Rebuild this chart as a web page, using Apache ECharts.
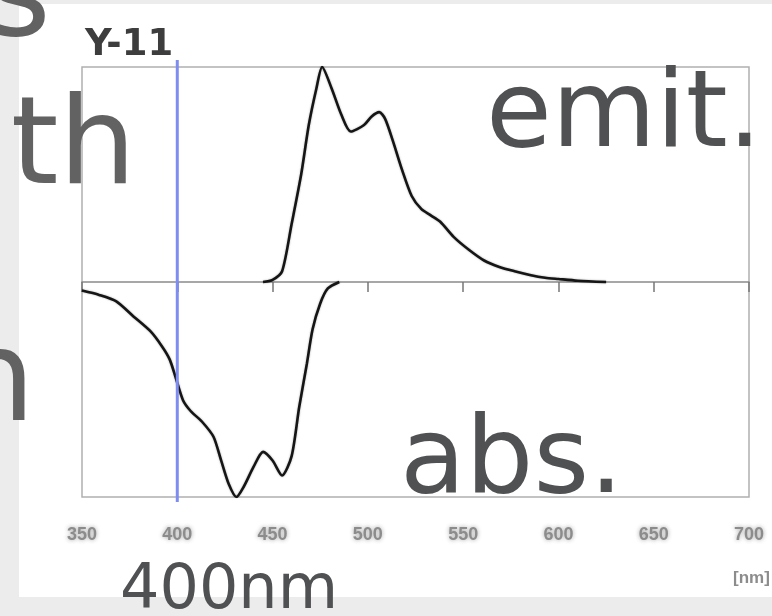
<!DOCTYPE html>
<html>
<head>
<meta charset="utf-8">
<script src="https://cdn.jsdelivr.net/npm/echarts@6/dist/echarts.min.js"></script>
<style>
html,body{margin:0;padding:0;background:#ececec;}
#c{width:772px;height:616px;}
</style>
</head>
<body>
<div id="c"></div>
<script>
// wavelength ticks (nm)
var xTicks = [350, 400, 450, 500, 550, 600, 650, 700];
// emission spectrum (normalised, upper panel)
var emitWl  = [445, 450, 455, 460, 465, 469, 473, 476, 481, 486, 491, 498, 502, 506, 509, 513, 518, 523, 528, 533, 538, 545, 553, 561, 569, 577, 585, 593, 600, 610, 625];
var emitVal = [0, 0.01, 0.05, 0.27, 0.5, 0.73, 0.9, 1.0, 0.9, 0.78, 0.70, 0.73, 0.77, 0.79, 0.76, 0.66, 0.52, 0.40, 0.34, 0.31, 0.28, 0.21, 0.15, 0.10, 0.07, 0.05, 0.033, 0.02, 0.014, 0.006, 0];
// absorption spectrum (normalised, drawn downward in lower panel)
var absWl  = [350, 359, 368, 377, 386, 392, 396, 399, 403, 407, 413, 419, 423, 427, 431, 435, 440, 445, 450, 455, 460, 464, 468, 471, 475, 479, 485];
var absVal = [-0.04, -0.06, -0.09, -0.16, -0.23, -0.30, -0.36, -0.44, -0.55, -0.60, -0.65, -0.72, -0.83, -0.94, -1.0, -0.95, -0.86, -0.79, -0.83, -0.90, -0.81, -0.58, -0.38, -0.22, -0.10, -0.03, 0];
// excitation marker
var markWl = [400, 400];
var markY  = [0, 1];
var unitLabel = '[nm]';
var dyeName = 'Y-11';

function pairs(xs, ys){ return xs.map(function(x,i){ return [x, ys[i]]; }); }

var chart = echarts.init(document.getElementById('c'), null, {renderer:'canvas'});
var bigFont = 'DejaVu Sans';
var option = {
  backgroundColor: '#ececec',
  animation: false,
  grid: [
    {left: 82, right: 23, top: 67, bottom: 119, show: true, borderColor: '#b0b0b0', borderWidth: 1.5, backgroundColor: 'transparent'},
    {left: 82, right: 23, top: 60, bottom: 114, show: false}
  ],
  xAxis: [
    {gridIndex: 0, type: 'value', min: 350, max: 700, interval: 50, position: 'bottom',
     axisLine: {show: true, onZero: true, lineStyle: {color: '#8a8a8a', width: 1.5}},
     axisTick: {show: true, inside: false, length: 10, lineStyle: {color: '#777', width: 1.5}},
     axisLabel: {show: false}, splitLine: {show: false}},
    {gridIndex: 0, type: 'value', min: 350, max: 700, interval: 50, position: 'bottom',
     axisLine: {show: false, onZero: false}, axisTick: {show: false},
     axisLabel: {show: true, margin: 29, color: '#8c8c8c', fontSize: 18, fontWeight: 'bold', fontFamily: 'Liberation Sans',
       textShadowColor: 'rgba(150,150,150,0.9)', textShadowBlur: 4,
       formatter: function(v){ return xTicks.indexOf(v) >= 0 ? String(v) : ''; }},
     splitLine: {show: false}},
    {gridIndex: 1, type: 'value', min: 350, max: 700, show: false}
  ],
  yAxis: [
    {gridIndex: 0, type: 'value', min: -1, max: 1, show: false, splitLine: {show: false}},
    {gridIndex: 1, type: 'value', min: 0, max: 1, show: false}
  ],
  series: [
    {type: 'line', xAxisIndex: 0, yAxisIndex: 0, data: pairs(emitWl, emitVal), smooth: 0.25, symbol: 'none',
     lineStyle: {color: '#151515', width: 2.6, shadowColor: 'rgba(0,0,0,0.35)', shadowBlur: 2}, z: 3},
    {type: 'line', xAxisIndex: 0, yAxisIndex: 0, data: pairs(absWl, absVal), smooth: 0.25, symbol: 'none',
     lineStyle: {color: '#151515', width: 2.6, shadowColor: 'rgba(0,0,0,0.35)', shadowBlur: 2}, z: 3},
    {type: 'line', xAxisIndex: 2, yAxisIndex: 1, data: pairs(markWl, markY), symbol: 'none',
     lineStyle: {color: '#7d8ef0', width: 3}, z: 4}
  ],
  graphic: [
    {type: 'rect', left: 19, top: 4, shape: {width: 760, height: 593}, style: {fill: '#ffffff'}, z: -10, silent: true},
    {type: 'text', x: 85, y: 45, z: 5, style: {text: dyeName, font: 'bold 37px "DejaVu Sans"', fill: '#3d3d3d', textAlign: 'left', verticalAlign: 'middle', shadowColor: 'rgba(60,60,60,0.6)', shadowBlur: 3}},
    {type: 'text', x: 733, y: 578, z: 5, style: {text: unitLabel, font: 'bold 17px "Liberation Sans"', fill: '#8c8c8c', textAlign: 'left', verticalAlign: 'middle', shadowColor: 'rgba(150,150,150,0.9)', shadowBlur: 4}},
    {type: 'text', x: 486, y: 118, z: 10, style: {text: 'emit.', font: '107px "' + bigFont + '"', fill: '#505153', textAlign: 'left', verticalAlign: 'middle'}},
    {type: 'text', x: 400, y: 464, z: 10, style: {text: 'abs.', font: '107px "' + bigFont + '"', fill: '#505153', textAlign: 'left', verticalAlign: 'middle'}},
    {type: 'text', x: 120, y: 592, z: 10, style: {text: '400nm', font: '62px "' + bigFont + '"', fill: '#505153', textAlign: 'left', verticalAlign: 'middle'}},
    {type: 'text', x: 136, y: 151, z: 10, style: {text: 'gth', font: '122px "' + bigFont + '"', fill: '#626262', textAlign: 'right', verticalAlign: 'middle'}},
    {type: 'text', x: 35, y: 387, z: 10, style: {text: 'n', font: '126px "' + bigFont + '"', fill: '#626262', textAlign: 'right', verticalAlign: 'middle'}},
    {type: 'text', x: 51, y: 2, z: 10, style: {text: 's', font: '126px "' + bigFont + '"', fill: '#626262', textAlign: 'right', verticalAlign: 'middle'}}
  ]
};
chart.setOption(option);
</script>
</body>
</html>
